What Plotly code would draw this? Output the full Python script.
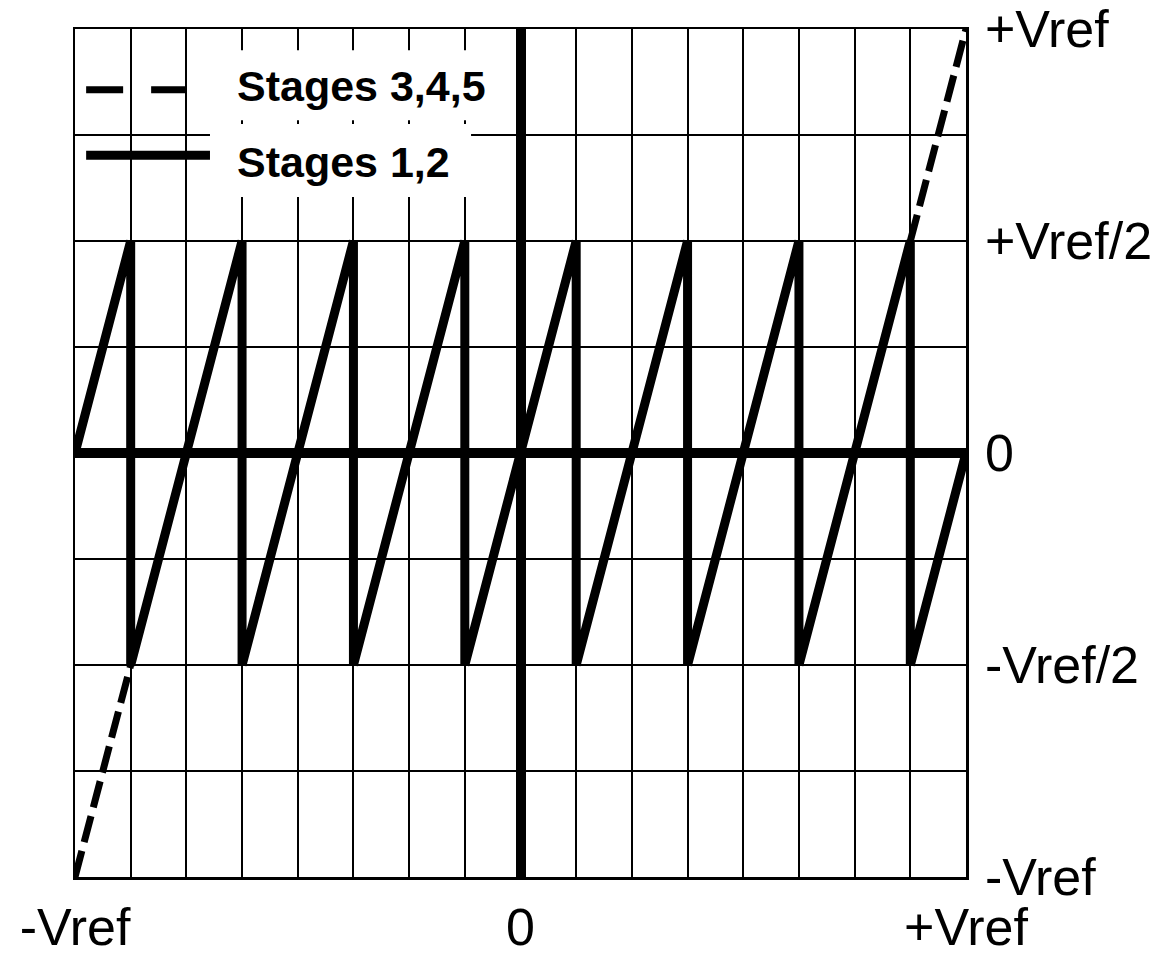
import plotly.graph_objects as go

# ---- data (values in units of Vref) ----
stage12_x = [-1, -0.875, -0.875, -0.625, -0.625, -0.375, -0.375, -0.125, -0.125,
             0.125, 0.125, 0.375, 0.375, 0.625, 0.625, 0.875, 0.875, 1]
stage12_y = [0, 0.5, -0.5, 0.5, -0.5, 0.5, -0.5, 0.5, -0.5,
             0.5, -0.5, 0.5, -0.5, 0.5, -0.5, 0.5, -0.5, 0]

stage345_x = [-1, -0.625, -0.625, -0.375, -0.375, -0.125, -0.125,
              0.125, 0.125, 0.375, 0.375, 0.625, 0.625, 1]
stage345_y = [-1, 0.5, -0.5, 0.5, -0.5, 0.5, -0.5,
              0.5, -0.5, 0.5, -0.5, 0.5, -0.5, 1]

x_tick_vals = [-1, 0, 1]
x_tick_text = ["-Vref", "0", "+Vref"]
y_tick_vals = [-1, -0.5, 0, 0.5, 1]
y_tick_text = ["-Vref", "-Vref/2", "0", "+Vref/2", "+Vref"]

legend_names = ["Stages 3,4,5", "Stages 1,2"]

FONT = "Liberation Sans, Arial, sans-serif"

fig = go.Figure()

fig.add_trace(go.Scatter(
    x=stage345_x, y=stage345_y, mode="lines",
    line=dict(color="black", width=7, dash="27px,9px"),
    name=legend_names[0], showlegend=False, hoverinfo="skip"))

fig.add_trace(go.Scatter(
    x=stage12_x, y=stage12_y, mode="lines",
    line=dict(color="black", width=9),
    name=legend_names[1], showlegend=False, hoverinfo="skip"))

# legend: white boxes under the text
fig.add_shape(type="rect", xref="x", yref="y", x0=-0.697, x1=-0.111, y0=0.785, y1=0.950,
              fillcolor="white", line=dict(width=0), layer="between")
fig.add_shape(type="rect", xref="x", yref="y", x0=-0.697, x1=-0.111, y0=0.604, y1=0.776,
              fillcolor="white", line=dict(width=0), layer="between")
# legend samples
fig.add_shape(type="line", xref="x", yref="y", x0=-0.975, x1=-0.749, y0=0.857, y1=0.857,
              line=dict(color="black", width=7, dash="37px,28px"), layer="above")
fig.add_shape(type="line", xref="x", yref="y", x0=-0.975, x1=-0.697, y0=0.702, y1=0.702,
              line=dict(color="black", width=9), layer="above")
fig.add_annotation(x=-0.641, y=0.866, xref="x", yref="y", text=legend_names[0],
                   showarrow=False, xanchor="left", yanchor="middle",
                   font=dict(family=FONT, size=43, color="black", weight="bold"))
fig.add_annotation(x=-0.641, y=0.686, xref="x", yref="y", text=legend_names[1],
                   showarrow=False, xanchor="left", yanchor="middle",
                   font=dict(family=FONT, size=43, color="black", weight="bold"))

axis_common = dict(
    showline=True, mirror=True, linecolor="black", linewidth=2.5,
    showgrid=True, gridcolor="black", gridwidth=2,
    zeroline=True, zerolinecolor="black", zerolinewidth=10,
    ticks="", tickfont=dict(family=FONT, size=52, color="black"),
    automargin=False, ticklabeloverflow="allow",
)

fig.update_xaxes(range=[-1, 1], tickmode="array", tickvals=x_tick_vals, ticktext=x_tick_text,
                 ticklabelstandoff=3,
                 minor=dict(tick0=-1, dtick=0.125, showgrid=True, gridcolor="black", gridwidth=2),
                 **axis_common)
fig.update_yaxes(range=[-1, 1], side="right", tickmode="array", tickvals=y_tick_vals,
                 ticktext=y_tick_text, ticklabelstandoff=6,
                 minor=dict(tick0=-1, dtick=0.25, showgrid=True, gridcolor="black", gridwidth=2),
                 **axis_common)

fig.update_layout(
    width=1176, height=962,
    margin=dict(l=75, r=210, t=29, b=85),
    paper_bgcolor="white", plot_bgcolor="white",
    showlegend=False,
)

fig.write_html("out.html", config={"displayModeBar": False, "staticPlot": True},
               post_script="document.body.style.margin='0';")
